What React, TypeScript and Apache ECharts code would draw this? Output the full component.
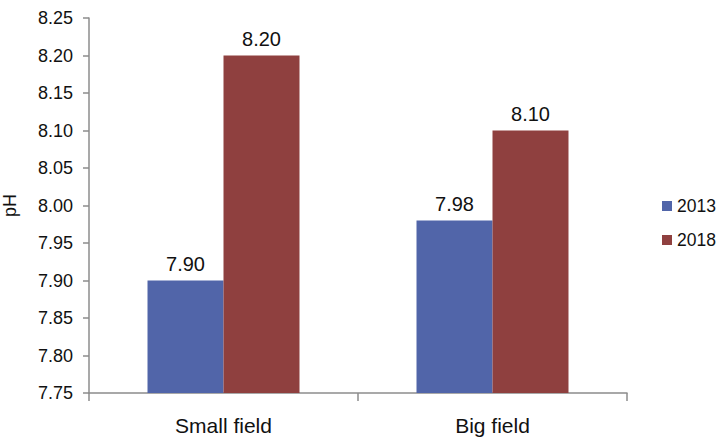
import React, { useEffect, useRef } from "react";
import * as echarts from "echarts";

const categories = ["Small field", "Big field"];
const seriesNames = ["2013", "2018"];
const values2013 = [7.9, 7.98];
const values2018 = [8.2, 8.1];
const colors = ["#5165a9", "#8f403f"];

export default function App() {
  const ref = useRef<HTMLDivElement>(null);
  useEffect(() => {
    if (!ref.current) return;
    const chart = echarts.init(ref.current, undefined, { renderer: "svg" });
    const font = "Liberation Sans, Arial, sans-serif";
    const axisColor = "#8c8c8c";
    const labelCfg = {
      show: true,
      position: "top",
      distance: 7,
      fontSize: 20,
      color: "#111",
      fontFamily: font,
      formatter: (p: any) => Number(p.value).toFixed(2),
    };
    chart.setOption({
      animation: false,
      textStyle: { fontFamily: font },
      grid: { left: 89, right: 90, top: 18, bottom: 45, containLabel: false, outerBoundsMode: "none" },
      legend: {
        orient: "vertical",
        left: 662,
        top: 197,
        padding: 0,
        itemWidth: 10,
        itemHeight: 10,
        itemGap: 16,
        icon: "rect",
        textStyle: { fontSize: 17.5, color: "#111", fontFamily: font },
        data: seriesNames,
      },
      xAxis: {
        type: "category",
        data: categories,
        axisLine: { lineStyle: { color: axisColor, width: 1.5 } },
        axisTick: { show: true, alignWithLabel: false, length: 8, lineStyle: { color: axisColor, width: 1.5 } },
        axisLabel: { fontSize: 21, color: "#111", margin: 22, fontFamily: font },
      },
      yAxis: {
        type: "value",
        min: 7.75,
        max: 8.25,
        interval: 0.05,
        name: "pH",
        nameLocation: "middle",
        nameGap: 70,
        nameTextStyle: { fontSize: 18, color: "#111", fontFamily: font },
        splitLine: { show: false },
        axisLine: { show: true, lineStyle: { color: axisColor, width: 1.5 } },
        axisTick: { show: true, length: 6, lineStyle: { color: axisColor, width: 1.5 } },
        axisLabel: {
          fontSize: 18,
          color: "#111",
          margin: 16,
          fontFamily: font,
          formatter: (v: number) => v.toFixed(2),
        },
      },
      series: [
        {
          name: seriesNames[0],
          type: "bar",
          data: values2013,
          itemStyle: { color: colors[0] },
          barGap: "0%",
          barCategoryGap: "43.5%",
          label: labelCfg,
        },
        {
          name: seriesNames[1],
          type: "bar",
          data: values2018,
          itemStyle: { color: colors[1] },
          barGap: "0%",
          barCategoryGap: "43.5%",
          label: labelCfg,
        },
      ],
    });
    return () => chart.dispose();
  }, []);
  return <div ref={ref} style={{ width: 717, height: 438, position: "absolute", left: 0, top: 0 }} />;
}
